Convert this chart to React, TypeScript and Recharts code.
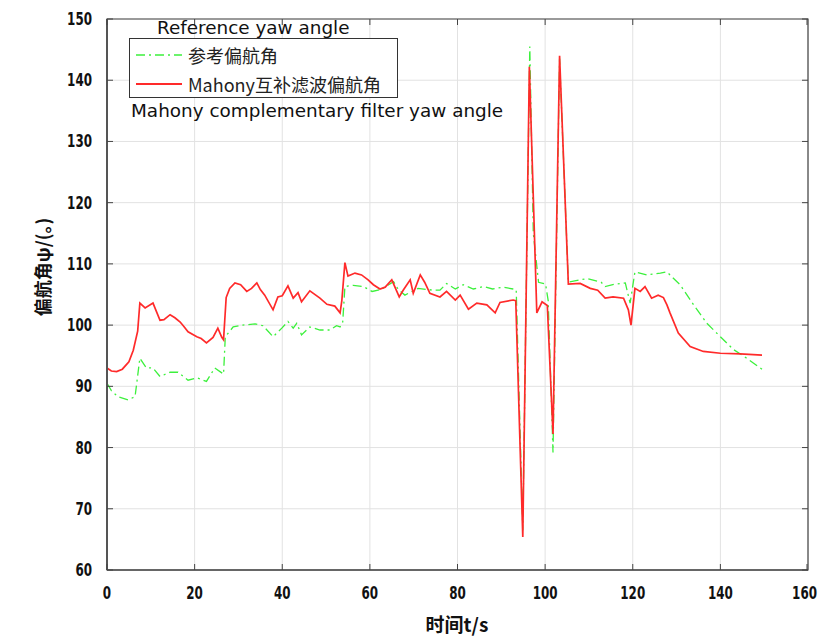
import {
  LineChart,
  Line,
  XAxis,
  YAxis,
  CartesianGrid,
  Legend,
  ReferenceArea,
} from 'recharts';

// time (s) and yaw angle (deg)
const refTime = [
  0, 1, 2.5, 4.8, 6.4, 7.5, 9, 10.5, 12.1, 14.4, 16.2, 18.5, 20.5, 22.7, 24.6, 26.2, 26.6, 27,
  28.8, 31, 33.8, 35.6, 37.9, 39.9, 41.3, 42.5, 43.3, 44.4, 46.3, 48.6, 50.9, 52.4, 53.2, 53.8,
  54.3, 56.2, 58.5, 60.5, 62.5, 65.4, 66.5, 68, 71, 74.5, 76, 77.5, 79.5, 81.3, 83.6, 85.9, 88,
  90.4, 92.7, 93.4, 94.9, 96.5, 97.3, 98.5, 100.1, 100.7, 101.8, 103.3, 105.3, 109.5, 112.8,
  113.7, 116, 118.3, 119.4, 120.5, 123.2, 126.3, 127.8, 128.9, 130.8, 133.9, 136.9, 140, 143,
  146, 149.5,
];
const refYaw = [
  90.5, 89.3, 88.3, 87.8, 88.3, 94.6, 93, 93, 91.6, 92.3, 92.3, 91, 91.4, 90.8, 93, 92.2, 92, 98.1,
  99.7, 100, 100.2, 99.9, 98.1, 99.5, 100.6, 99.5, 100.3, 98.4, 99.7, 99.2, 99.2, 99.9, 99.7, 100.5,
  106.3, 106.5, 106.3, 105.5, 105.8, 107.1, 105.8, 104.9, 106, 105.7, 105.7, 106.8, 105.9, 106.6,
  105.9, 106.3, 105.9, 106.2, 105.9, 105.8, 66.5, 145.5, 115, 107, 106.7, 104, 79.2, 143.5, 107,
  107.6, 107, 106.3, 106.7, 106.9, 103.6, 108.7, 108.2, 108.5, 108.7, 107.9, 106.6, 103.3, 100.3,
  98.1, 96, 94.6, 92.8,
];

const mahonyTime = [
  0, 1, 2.2, 3.5, 5, 6, 7, 7.5, 8.7, 10.5, 12.1, 13, 14.4, 15.5, 16.7, 17.5, 18.5, 20.5, 21.5,
  22.7, 24.2, 25.3, 26.2, 26.6, 27.2, 28, 29.2, 30.5, 31.9, 33, 34.2, 35, 36, 37.9, 39, 40, 41.3,
  42.5, 43.6, 44.4, 46.3, 48.6, 50.2, 52, 53.2, 53.6, 54.3, 55, 56.6, 58.1, 59.6, 60.8, 62.3, 63.5,
  65, 66.7, 67.6, 69.2, 69.9, 71.5, 72.5, 73.7, 76, 77.5, 79.5, 80.6, 82.5, 84.4, 86.7, 88.6, 89.7,
  92.7, 93.3, 94.9, 96.4, 98.1, 99.3, 100.5, 101.8, 103.3, 105.3, 108, 110.3, 112, 113.7, 115.5,
  117.9, 119, 119.6, 120.5, 121.7, 122.8, 124.3, 125.8, 127, 127.8, 128.5, 130.4, 133.1, 136.1,
  140, 144.5, 149.5,
];
const mahonyYaw = [
  93, 92.5, 92.4, 92.8, 94, 95.9, 99, 103.6, 102.8, 103.6, 100.8, 100.9, 101.7, 101.2, 100.5, 99.8,
  98.9, 98.1, 97.8, 97.1, 98, 99.5, 98, 97.6, 104.5, 106, 106.9, 106.6, 105.5, 106, 106.9, 105.8,
  104.9, 102.5, 104.6, 104.8, 106.4, 104.4, 105.3, 103.8, 105.6, 104.4, 103.4, 103.1, 102, 104,
  110.2, 108, 108.5, 108.2, 107.4, 106.6, 105.9, 106.2, 107.4, 104.6, 105.7, 107.4, 105.2, 108.2,
  107, 105.2, 104.6, 105.5, 104.1, 104.9, 102.6, 103.6, 103.3, 102, 103.7, 104.1, 104, 65.4, 142.2,
  102, 103.8, 103.2, 82.2, 144, 106.7, 106.8, 106, 105.7, 104.4, 104.6, 104.4, 102.5, 100, 106,
  105.5, 106.3, 104.4, 104.9, 104.5, 103.3, 102, 98.7, 96.5, 95.7, 95.4, 95.3, 95.1,
];

const xTicks = [0, 20, 40, 60, 80, 100, 120, 140, 160];
const yTicks = [60, 70, 80, 90, 100, 110, 120, 130, 140, 150];
const legendOrder = ['参考偏航角', 'Mahony互补滤波偏航角'];

const refData = refTime.map((t, i) => ({ t, yaw: refYaw[i] }));
const mahonyData = mahonyTime.map((t, i) => ({ t, yaw: mahonyYaw[i] }));

const PLOT_TOP = 19;
const PLOT_RIGHT = 808;
const TICK_FONT = '"DejaVu Sans", "Liberation Sans", Arial, sans-serif';
const CJK_FONT = '"Noto Sans CJK SC", "Noto Sans", sans-serif';
const NOTE_FONT = '"DejaVu Sans", "Noto Sans", sans-serif';

const seriesStyle: Record<string, { color: string; dash?: string }> = {
  参考偏航角: { color: '#3cf03c', dash: '9 4 2 4' },
  Mahony互补滤波偏航角: { color: '#ff2a2a' },
};

// squeezed bold digits, like the original's condensed tick font
function TickText({ x, y, anchor, value }: any) {
  const s = String(value);
  const w = s.length * 8.3;
  // last x label sits at the page edge: right-align it there
  let tx = x;
  let ta = anchor;
  if (anchor === 'middle' && x + w / 2 > 816) {
    tx = 817;
    ta = 'end';
  }
  return (
    <text
      x={tx}
      y={y}
      textAnchor={ta}
      fontFamily={TICK_FONT}
      fontWeight="bold"
      fontSize={17}
      fill="#111"
      textLength={w}
      lengthAdjust="spacingAndGlyphs"
    >
      {s}
    </text>
  );
}

function BottomTick({ x, y, payload }: any) {
  return (
    <g>
      <line x1={x} x2={x} y1={y} y2={y - 6} stroke="#444" />
      <line x1={x} x2={x} y1={PLOT_TOP} y2={PLOT_TOP + 6} stroke="#444" />
      <TickText x={x} y={y + 29} anchor="middle" value={payload.value} />
    </g>
  );
}

function LeftTick({ x, y, payload }: any) {
  return (
    <g>
      <line x1={x} x2={x + 6} y1={y} y2={y} stroke="#444" />
      <line x1={PLOT_RIGHT} x2={PLOT_RIGHT - 6} y1={y} y2={y} stroke="#444" />
      <TickText x={x - 15} y={y + 6} anchor="end" value={payload.value} />
    </g>
  );
}

function renderLegend(props: any) {
  const items = [...props.payload].sort(
    (a: any, b: any) => legendOrder.indexOf(a.value) - legendOrder.indexOf(b.value),
  );
  return (
    <div
      style={{
        width: 267,
        height: 58,
        border: '1.5px solid #333',
        background: '#fff',
        fontFamily: CJK_FONT,
        fontSize: 18,
        color: '#222',
        boxSizing: 'content-box',
      }}
    >
      {items.map((entry: any) => {
        const st = seriesStyle[entry.value];
        return (
          <div key={entry.value} style={{ display: 'flex', alignItems: 'center', height: 26, marginTop: 3 }}>
            <svg width={58} height={10} style={{ flex: 'none' }}>
              <line
                x1={6}
                x2={52}
                y1={5}
                y2={5}
                stroke={st.color}
                strokeWidth={st.dash ? 1.3 : 2}
                strokeDasharray={st.dash}
              />
            </svg>
            <span style={{ lineHeight: '20px' }}>{entry.value}</span>
          </div>
        );
      })}
    </div>
  );
}

function YLabel() {
  return (
    <text
      x={42}
      y={267}
      transform="rotate(-90 42 267)"
      textAnchor="middle"
      dominantBaseline="central"
      fontFamily={CJK_FONT}
      fontWeight="bold"
      fontSize={18}
      fill="#111"
    >
      偏航角ψ/(。)
    </text>
  );
}

function XLabel() {
  return (
    <text
      x={457}
      y={623}
      textAnchor="middle"
      dominantBaseline="central"
      fontFamily={CJK_FONT}
      fontWeight="bold"
      fontSize={19}
      fill="#111"
    >
      时间t/s
    </text>
  );
}

const noteStyle = {
  position: 'absolute' as const,
  fontFamily: NOTE_FONT,
  fontSize: 18.4,
  lineHeight: '18px',
  color: '#111',
  whiteSpace: 'nowrap' as const,
};

export default function App() {
  return (
    <div style={{ position: 'absolute', left: 0, top: 0, width: 819, height: 636, background: '#fff' }}>
      <LineChart width={819} height={636} margin={{ top: PLOT_TOP, right: 11, bottom: 36, left: 47 }}>
        <CartesianGrid stroke="#e2e2e2" strokeWidth={1} />
        <XAxis
          type="number"
          dataKey="t"
          domain={[0, 160]}
          ticks={xTicks}
          height={30}
          tickSize={0}
          tickMargin={0}
          tick={<BottomTick />}
          axisLine={{ stroke: '#555', strokeWidth: 1.5 }}
          allowDuplicatedCategory={false}
          label={<XLabel />}
        />
        <YAxis
          type="number"
          domain={[60, 150]}
          ticks={yTicks}
          width={60}
          tickSize={0}
          tickMargin={0}
          tick={<LeftTick />}
          axisLine={{ stroke: '#555', strokeWidth: 2 }}
          label={<YLabel />}
        />
        <ReferenceArea x1={0} x2={160} y1={60} y2={150} fill="none" stroke="#444" strokeWidth={1.2} />
        <Legend
          layout="vertical"
          align="center"
          verticalAlign="middle"
          content={renderLegend}
          wrapperStyle={{ left: 129, top: 38, width: 270, height: 61 }}
        />
        <Line
          data={refData}
          type="linear"
          dataKey="yaw"
          name="参考偏航角"
          stroke={seriesStyle['参考偏航角'].color}
          strokeWidth={1.3}
          strokeDasharray={seriesStyle['参考偏航角'].dash}
          dot={false}
          isAnimationActive={false}
        />
        <Line
          data={mahonyData}
          type="linear"
          dataKey="yaw"
          name="Mahony互补滤波偏航角"
          stroke={seriesStyle['Mahony互补滤波偏航角'].color}
          strokeWidth={1.7}
          dot={false}
          isAnimationActive={false}
        />
      </LineChart>
      <div style={{ ...noteStyle, left: 157, top: 19 }}>Reference yaw angle</div>
      <div style={{ ...noteStyle, left: 131, top: 102 }}>Mahony complementary filter yaw angle</div>
    </div>
  );
}
